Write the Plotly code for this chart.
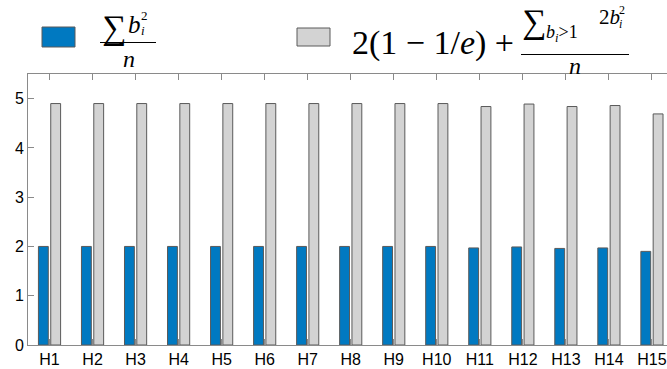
import plotly.graph_objects as go

# Data
categories = [f"H{i}" for i in range(1, 16)]
sum_b2_over_n = [2.00, 2.00, 2.00, 2.00, 2.00, 2.00, 2.00, 2.00, 2.00, 2.00,
                 1.97, 1.99, 1.96, 1.97, 1.90]
bound_values = [4.90, 4.90, 4.90, 4.90, 4.90, 4.90, 4.90, 4.90, 4.90, 4.90,
                4.84, 4.89, 4.84, 4.86, 4.69]
y_ticks = [0, 1, 2, 3, 4, 5]

W, H = 667, 369
ML, MT, MB = 28, 74, 24
PW, PH = W - ML, H - MT - MB
XPIX = 43.03                       # pixels per category
X0 = 0.5
X1 = X0 + PW / XPIX

BLUE = "#0079C1"
GRAY = "#D3D3D3"
EDGE = "#5a5a5a"
AXIS = "#8a8a8a"

xs = list(range(1, len(categories) + 1))
bw = 0.229

fig = go.Figure()
fig.add_bar(x=xs, y=sum_b2_over_n, width=bw, offset=-0.143 - bw / 2,
            marker=dict(color=BLUE, line=dict(color=EDGE, width=1)),
            showlegend=False)
fig.add_bar(x=xs, y=bound_values, width=bw, offset=0.143 - bw / 2,
            marker=dict(color=GRAY, line=dict(color=EDGE, width=1)),
            showlegend=False)


def px(x):
    return (x - ML) / PW


def py(y):
    return (MT + PH - y) / PH


SERIF = "Liberation Serif"
shapes = []
annots = []


def text(x, y, s, size, xanchor="left", yanchor="middle"):
    annots.append(dict(x=px(x), y=py(y), xref="paper", yref="paper", text=s,
                       showarrow=False, xanchor=xanchor, yanchor=yanchor,
                       font=dict(family=SERIF, size=size, color="black"),
                       borderpad=0))


# Legend swatches
shapes.append(dict(type="rect", xref="paper", yref="paper",
                   x0=px(42), x1=px(75), y0=py(27), y1=py(47),
                   fillcolor=BLUE, line=dict(color=EDGE, width=1)))
shapes.append(dict(type="rect", xref="paper", yref="paper",
                   x0=px(297), x1=px(330), y0=py(28), y1=py(46),
                   fillcolor=GRAY, line=dict(color=EDGE, width=1)))

# Entry 1: sum b_i^2 / n
text(101, 28, "∑", 34)
text(127, 24, "<i>b</i>", 25)
text(140, 15, "2", 13)
text(140, 31, "<i>i</i>", 13)
shapes.append(dict(type="line", xref="paper", yref="paper",
                   x0=px(100), x1=px(156), y0=py(42.5), y1=py(42.5),
                   line=dict(color="black", width=1.2)))
text(129, 59, "<i>n</i>", 24, xanchor="center")

# Entry 2: 2(1 - 1/e) + sum_{b_i>1} 2 b_i^2 / n
text(351, 43, "2(1 − 1/<i>e</i>) +", 34)
text(521, 22, "∑", 34)
text(545, 33, "<i>b<sub>i</sub></i>&gt;1", 18)
text(598, 17, "2<i>b</i>", 21)
text(618, 10, "2", 12)
text(618, 24, "<i>i</i>", 12)
shapes.append(dict(type="line", xref="paper", yref="paper",
                   x0=px(521), x1=px(629), y0=py(54.5), y1=py(54.5),
                   line=dict(color="black", width=1.2)))
text(575, 66, "<i>n</i>", 24, xanchor="center")

fig.update_layout(
    width=W, height=H,
    margin=dict(l=ML, r=0, t=MT, b=MB, pad=0),
    plot_bgcolor="white", paper_bgcolor="white",
    barmode="overlay",
    shapes=shapes, annotations=annots,
    font=dict(family="Liberation Sans", size=16, color="black"),
    xaxis=dict(range=[X0, X1], tickmode="array", tickvals=xs, ticktext=categories,
               ticks="inside", ticklen=6, tickcolor=AXIS, tickwidth=1,
               showline=True, linecolor=AXIS, linewidth=1, mirror="ticks",
               showgrid=False, zeroline=False,
               tickfont=dict(family="Liberation Sans", size=16, color="black")),
    yaxis=dict(range=[0, 5.5], tickmode="array", tickvals=y_ticks,
               ticks="inside", ticklen=6, tickcolor=AXIS, tickwidth=1,
               showline=True, linecolor=AXIS, linewidth=1, mirror=False,
               showgrid=False, zeroline=False,
               tickfont=dict(family="Liberation Sans", size=16, color="black")),
)

fig.write_html("out.html")
